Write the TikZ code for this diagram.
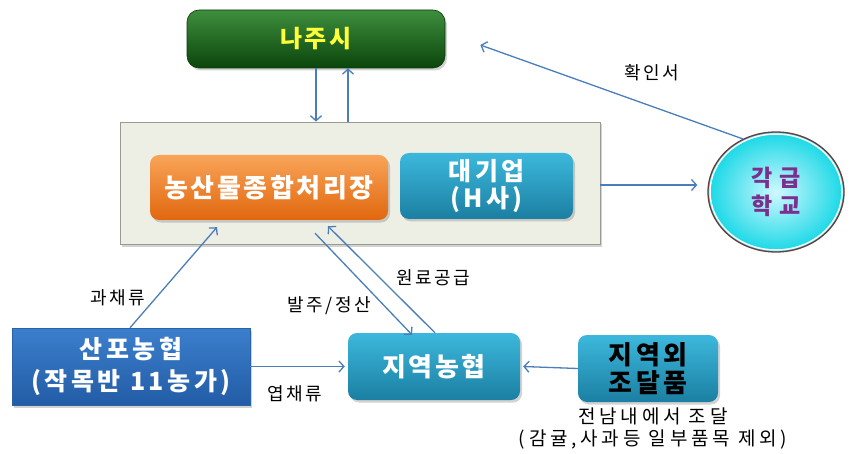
\documentclass[tikz,border=0pt]{standalone}
\usepackage{fontspec}
\setmainfont{Noto Sans CJK KR}
\newfontfamily\lsA[LetterSpace=10]{Noto Sans CJK KR}
\newfontfamily\lsB[LetterSpace=14]{Noto Sans CJK KR}
\newfontfamily\lsC[LetterSpace=20]{Noto Sans CJK KR}
\newfontfamily\lsD[LetterSpace=26]{Noto Sans CJK KR}
\usetikzlibrary{arrows.meta,shadows,shapes.geometric,calc}
\definecolor{arrowblue}{HTML}{4A7EBB}
\definecolor{teallight}{HTML}{3CB8DC}
\definecolor{tealdark}{HTML}{1B7FA2}
\definecolor{grntop}{HTML}{3E8E3E}
\definecolor{grnbot}{HTML}{0B450B}
\definecolor{grndraw}{HTML}{0A3A0A}
\definecolor{yel}{HTML}{FFFF3A}
\definecolor{contfill}{HTML}{EDEEE4}
\definecolor{contdraw}{HTML}{9A9A92}
\definecolor{orgtop}{HTML}{F8A458}
\definecolor{orgbot}{HTML}{E2670E}
\definecolor{ringcol}{HTML}{6E3A3A}
\definecolor{ballin}{HTML}{CFF8FF}
\definecolor{ballout}{HTML}{18D8E6}
\definecolor{schtext}{HTML}{7B2F8E}
\definecolor{blutop}{HTML}{3B7FCC}
\definecolor{blubot}{HTML}{235CA6}
\definecolor{bludraw}{HTML}{2A62A8}
\newcommand{\fs}[2]{\fontsize{#1}{#2}\selectfont}
\tikzset{
  arr/.style={draw=arrowblue, line width=1.3pt, -{Straight Barb[length=5pt,width=11pt,line width=1.3pt]}},
  shad/.style={drop shadow={opacity=0.35, shadow xshift=2pt, shadow yshift=-2.5pt}},
  tealbox/.style={rounded corners=9pt, top color=teallight, bottom color=tealdark, shad, align=center, inner sep=0pt},
  lbl/.style={font=\lsB\fs{18}{20}, text=black, inner sep=1pt}
}
\begin{document}
\begin{tikzpicture}[x=1pt,y=-1pt]
\useasboundingbox[fill=white] (0,0) rectangle (850,454);
% main nodes
\node[rounded corners=12pt, top color=grntop, bottom color=grnbot, draw=grndraw, line width=0.6pt, shad,
      minimum width=258pt, minimum height=58pt, inner sep=0pt, text=yel, font=\lsA\bfseries\fs{24}{26}] (naju) at (316,39) {나주시};
\node[fill=contfill, draw=contdraw, line width=0.8pt, shad, minimum width=480pt, minimum height=122pt, inner sep=0pt] (cont) at (360,183) {};
\node[rounded corners=9pt, top color=orgtop, bottom color=orgbot, shad, minimum width=238pt, minimum height=65pt, inner sep=0pt,
      text=white, font=\lsA\bfseries\fs{26}{28}] (nong) at (269,187.5) {농산물종합처리장};
\node[tealbox, minimum width=173pt, minimum height=66pt, text=white, font=\lsB\bfseries\fs{25}{27}] (dae) at (486.5,186) {대기업\\(H사)};
\node[ellipse, minimum width=136pt, minimum height=120pt, inner sep=0pt, draw=ringcol, line width=1.3pt,
      inner color=ballin, outer color=ballout, align=center, text=schtext, font=\lsD\bfseries\fs{23}{28}] (school) at (776,192) {각급\\학교};
\draw[white, line width=1.5pt] (school.center) ellipse (66pt and 58pt);
\node[top color=blutop, bottom color=blubot, draw=bludraw, shad, minimum width=238pt, minimum height=77pt, inner sep=0pt,
      align=center, text=white, font=\lsB\bfseries\fs{25}{32}] (sanpo) at (131,366.5) {산포농협\\(작목반 11농가)};
\node[tealbox, minimum width=172pt, minimum height=67pt, text=white, font=\lsA\bfseries\fs{26}{28}] (jiyeok) at (434,366.5) {지역농협};
\node[tealbox, minimum width=140pt, minimum height=67pt, text=black, font=\lsB\bfseries\fs{26}{28}] (outside) at (648,368.5) {지역외\\조달품};
\node[align=center, font=\lsC\fs{19}{22}, inner sep=0pt] (note) at (653,429) {전남내에서 조달\\(감귤,사과등 일부품목 제외)};
% connectors
\draw[arr] (naju.south) -- (naju.south |- cont.north);
\draw[arr] ($(cont.north)+(-12,0)$) -- ($(naju.south)+(32,0)$);
\draw[arr] (school.122) -- ($(naju.east)+(35,6)$);
\node[lbl] (l1) at (652,73) {확인서};
\draw[arr] ($(cont.east)+(0,2)$) -- ($(school.west)+(-10,-7)$);
\draw[arr] ($(sanpo.north)+(-1,0)$) -- ($(nong.south)+(-52,7)$);
\node[lbl] (l2) at (118,298) {과채류};
\draw[arr] ($(nong.south)+(46,13)$) -- ($(jiyeok.north)+(-22,2)$);
\draw[arr] ($(jiyeok.north)+(1,0)$) -- ($(nong.south)+(59,6)$);
\node[lbl] (l3) at (433,278) {원료공급};
\node[lbl] (l4) at (329,306) {발주/정산};
\draw[arr] (sanpo.east) -- ($(jiyeok.west)+(-3,0)$);
\node[lbl] (l5) at (295,394) {엽채류};
\draw[arr] (outside.west) -- ($(jiyeok.east)+(3,0)$);
\end{tikzpicture}
\end{document}
